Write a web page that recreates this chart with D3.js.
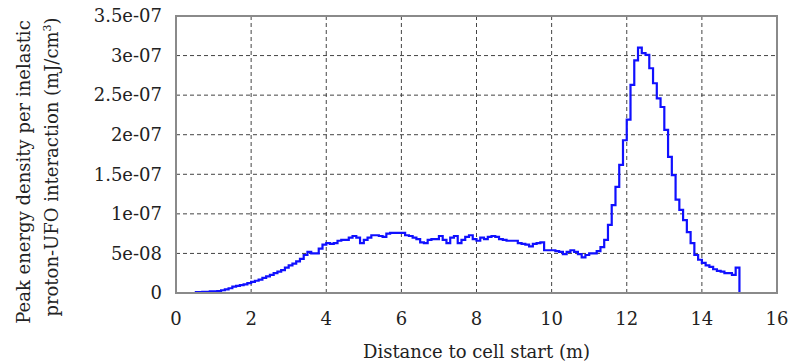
<!DOCTYPE html>
<html>
<head>
<meta charset="utf-8">
<script src="https://d3js.org/d3.v7.min.js"></script>
<style>
    body { margin: 0; background: #fff; }
    .grid line { stroke: #444; stroke-width: 1; stroke-dasharray: 4,3; }
    .lbl { font-family: "DejaVu Serif", serif; fill: #222; }
</style>
</head>
<body>
<svg width="792" height="364"></svg>
<script>
// distance from cell start (m), start of each 0.1 m bin
var distance = [
    0.5, 0.6, 0.7, 0.8, 0.9, 1.0, 1.1, 1.2, 1.3, 1.4,
    1.5, 1.6, 1.7, 1.8, 1.9, 2.0, 2.1, 2.2, 2.3, 2.4,
    2.5, 2.6, 2.7, 2.8, 2.9, 3.0, 3.1, 3.2, 3.3, 3.4,
    3.5, 3.6, 3.7, 3.8, 3.9, 4.0, 4.1, 4.2, 4.3, 4.4,
    4.5, 4.6, 4.7, 4.8, 4.9, 5.0, 5.1, 5.2, 5.3, 5.4,
    5.5, 5.6, 5.7, 5.8, 5.9, 6.0, 6.1, 6.2, 6.3, 6.4,
    6.5, 6.6, 6.7, 6.8, 6.9, 7.0, 7.1, 7.2, 7.3, 7.4,
    7.5, 7.6, 7.7, 7.8, 7.9, 8.0, 8.1, 8.2, 8.3, 8.4,
    8.5, 8.6, 8.7, 8.8, 8.9, 9.0, 9.1, 9.2, 9.3, 9.4,
    9.5, 9.6, 9.7, 9.8, 9.9, 10.0, 10.1, 10.2, 10.3, 10.4,
    10.5, 10.6, 10.7, 10.8, 10.9, 11.0, 11.1, 11.2, 11.3, 11.4,
    11.5, 11.6, 11.7, 11.8, 11.9, 12.0, 12.1, 12.2, 12.3, 12.4,
    12.5, 12.6, 12.7, 12.8, 12.9, 13.0, 13.1, 13.2, 13.3, 13.4,
    13.5, 13.6, 13.7, 13.8, 13.9, 14.0, 14.1, 14.2, 14.3, 14.4,
    14.5, 14.6, 14.7, 14.8, 14.9, 15.0
];
// peak energy density, in units of 1e-8 mJ/cm3 (last point closes the histogram)
var density = [
    0.1, 0.1, 0.15, 0.15, 0.2, 0.2, 0.25, 0.35, 0.45, 0.6,
    0.8, 0.9, 1.0, 1.1, 1.25, 1.4, 1.55, 1.7, 1.9, 2.1,
    2.3, 2.5, 2.7, 2.9, 3.2, 3.5, 3.7, 4.0, 4.3, 4.8,
    5.2, 5.0, 5.0, 5.6, 6.1, 6.3, 6.2, 6.3, 6.6, 6.7,
    6.7, 7.0, 7.2, 7.0, 6.3, 6.7, 7.0, 7.3, 7.3, 7.2,
    7.1, 7.5, 7.6, 7.6, 7.6, 7.6, 7.3, 7.2, 7.0, 6.8,
    6.4, 6.3, 6.7, 6.8, 6.8, 7.2, 6.7, 6.3, 7.0, 7.2,
    6.3, 6.7, 7.1, 7.3, 6.8, 6.6, 7.0, 6.8, 7.1, 7.2,
    7.1, 6.8, 6.7, 6.6, 6.6, 6.6, 6.3, 6.2, 6.1, 5.9,
    6.2, 6.3, 6.4, 5.4, 5.4, 5.4, 5.3, 5.2, 4.9, 5.2,
    5.4, 5.2, 4.9, 4.5, 4.8, 5.0, 5.0, 5.3, 5.8, 6.7,
    8.6, 11.1, 13.4, 16.2, 19.3, 21.9, 26.3, 29.4, 31.0, 30.3,
    30.1, 28.4, 26.5, 24.6, 23.5, 20.6, 17.2, 14.9, 11.8, 10.5,
    9.2, 7.7, 6.3, 4.8, 4.2, 3.8, 3.5, 3.3, 3.0, 2.8,
    2.7, 2.5, 2.5, 2.3, 3.2, 0
];

var xTicks = [0, 2, 4, 6, 8, 10, 12, 14, 16];
var yTicks = [0, 5, 10, 15, 20, 25, 30, 35];
var yTickLabels = ["0", "5e-08", "1e-07", "1.5e-07", "2e-07", "2.5e-07", "3e-07", "3.5e-07"];

var svg = d3.select("svg"),
    margin = { top: 16, right: 15, bottom: 71, left: 176 },
    width = +svg.attr("width") - margin.left - margin.right,
    height = +svg.attr("height") - margin.top - margin.bottom,
    g = svg.append("g").attr("transform", "translate(" + margin.left + "," + margin.top + ")");

var x = d3.scaleLinear().domain([0, 16]).range([0, width]);
var y = d3.scaleLinear().domain([0, 35]).range([height, 0]);

// dashed grid
g.append("g").attr("class", "grid")
    .selectAll("line")
    .data(xTicks.slice(1, -1))
    .enter().append("line")
    .attr("x1", d => x(d)).attr("x2", d => x(d))
    .attr("y1", 0).attr("y2", height);

g.append("g").attr("class", "grid")
    .selectAll("line")
    .data(yTicks.slice(1, -1))
    .enter().append("line")
    .attr("x1", 0).attr("x2", width)
    .attr("y1", d => y(d)).attr("y2", d => y(d));

// tick labels
g.append("g")
    .selectAll("text")
    .data(xTicks)
    .enter().append("text")
    .attr("class", "lbl")
    .attr("x", d => x(d))
    .attr("y", height + 32)
    .attr("text-anchor", "middle")
    .style("font-size", "18px")
    .text(d => d);

g.append("g")
    .selectAll("text")
    .data(yTicks)
    .enter().append("text")
    .attr("class", "lbl")
    .attr("x", -14)
    .attr("y", d => y(d))
    .attr("dy", "0.35em")
    .attr("text-anchor", "end")
    .style("font-size", "18px")
    .text((d, i) => yTickLabels[i]);

// histogram line
var line = d3.line()
    .x((d, i) => x(distance[i]))
    .y(d => y(d))
    .curve(d3.curveStepAfter);

g.append("path")
    .datum(density)
    .attr("fill", "none")
    .attr("stroke", "#1010ff")
    .attr("stroke-width", 2.2)
    .attr("d", line);

// frame
g.append("rect")
    .attr("width", width)
    .attr("height", height)
    .attr("fill", "none")
    .attr("stroke", "#8a8a8a")
    .attr("stroke-width", 2);

// axis titles
svg.append("text")
    .attr("class", "lbl")
    .attr("x", margin.left + x(8))
    .attr("y", 358)
    .attr("text-anchor", "middle")
    .style("font-size", "18px")
    .text("Distance to cell start (m)");

var yt = svg.append("g").attr("transform", "translate(0,172) rotate(-90)");
yt.append("text")
    .attr("class", "lbl")
    .attr("x", 0).attr("y", 30)
    .attr("text-anchor", "middle")
    .style("font-size", "18px")
    .text("Peak energy density per inelastic");
var t2 = yt.append("text")
    .attr("class", "lbl")
    .attr("x", 5).attr("y", 58)
    .attr("text-anchor", "middle")
    .style("font-size", "18px");
t2.append("tspan").text("proton-UFO interaction (mJ/cm");
t2.append("tspan").attr("dy", -7).style("font-size", "11px").text("3");
t2.append("tspan").attr("dy", 7).text(")");
</script>
</body>
</html>
